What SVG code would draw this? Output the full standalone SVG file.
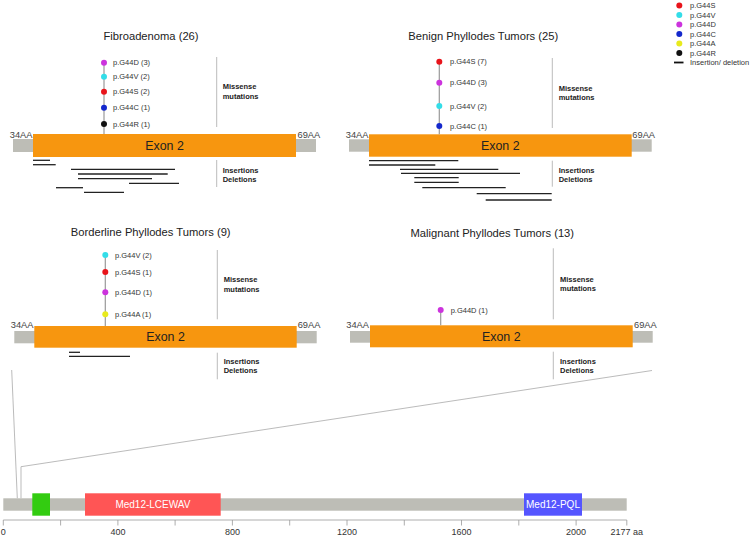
<svg xmlns="http://www.w3.org/2000/svg" width="750" height="537" viewBox="0 0 750 537">
<style>
text{font-family:"Liberation Sans",Arial,sans-serif}
.title{font-size:11.2px;fill:#222;text-anchor:middle}
.exon{font-size:12.4px;fill:#222;text-anchor:middle}
.aa{font-size:9.3px;fill:#444}
.mut{font-size:7.5px;fill:#333}
.lbl{font-size:7.5px;font-weight:bold;fill:#222}
.grey{fill:#bdbdb6}
.orange{fill:#f7960f}
.stem{stroke:#999;stroke-width:1.2}
.sep{stroke:#aaa;stroke-width:0.8}
.ins{stroke:#222;stroke-width:1.3}
.conn{stroke:#aaa;stroke-width:0.8;fill:none}
.axis{stroke:#999;stroke-width:0.8}
.tick{font-size:9px;fill:#333;text-anchor:middle}
.dom{font-size:10px;fill:#fff;text-anchor:middle}
.S{fill:#e8141b}.V{fill:#33dde8}.D{fill:#cc33dd}.C{fill:#1428cc}.A{fill:#e8ea1c}.R{fill:#111}
</style>

<g id="legend">
<circle class="S" cx="679.3" cy="5.5" r="3"/><text class="mut" x="690" y="8.2">p.G44S</text>
<circle class="V" cx="679.3" cy="15" r="3"/><text class="mut" x="690" y="17.7">p.G44V</text>
<circle class="D" cx="679.3" cy="24.5" r="3"/><text class="mut" x="690" y="27.2">p.G44D</text>
<circle class="C" cx="679.3" cy="34" r="3"/><text class="mut" x="690" y="36.7">p.G44C</text>
<circle class="A" cx="679.3" cy="43.5" r="3"/><text class="mut" x="690" y="46.2">p.G44A</text>
<circle class="R" cx="679.3" cy="53" r="3"/><text class="mut" x="690" y="55.7">p.G44R</text>
<line x1="674" y1="62.5" x2="683.5" y2="62.5" stroke="#111" stroke-width="1.8"/><text class="mut" x="690" y="65.2">Insertion/ deletion</text>
</g>

<g id="panel-fibroadenoma">
<text class="title" x="151" y="40">Fibroadenoma (26)</text>
<rect class="grey" x="13" y="139" width="303" height="13"/>
<rect class="orange" x="33" y="134" width="263" height="23"/>
<text class="exon" x="164.5" y="149.5">Exon 2</text>
<text class="aa" x="32.5" y="138" text-anchor="end">34AA</text>
<text class="aa" x="297.5" y="138">69AA</text>
<line class="stem" x1="104" y1="62.7" x2="104" y2="134"/>
<circle class="D" cx="104" cy="62.7" r="3"/><text class="mut" x="113" y="65.4">p.G44D (3)</text>
<circle class="V" cx="104" cy="76.7" r="3"/><text class="mut" x="113" y="79.4">p.G44V (2)</text>
<circle class="S" cx="104" cy="91.7" r="3"/><text class="mut" x="113" y="94.4">p.G44S (2)</text>
<circle class="C" cx="104" cy="107.7" r="3"/><text class="mut" x="113" y="110.4">p.G44C (1)</text>
<circle class="R" cx="104" cy="124" r="3"/><text class="mut" x="113" y="126.7">p.G44R (1)</text>
<line class="sep" x1="216.7" y1="57" x2="216.7" y2="127"/>
<text class="lbl" x="222.7" y="89.4">Missense</text>
<text class="lbl" x="222.7" y="98.7">mutations</text>
<line class="sep" x1="216.7" y1="160" x2="216.7" y2="187"/>
<text class="lbl" x="222.7" y="173.4">Insertions</text>
<text class="lbl" x="222.7" y="182">Deletions</text>
<line class="ins" x1="33" y1="160.3" x2="50" y2="160.3"/>
<line class="ins" x1="33" y1="164.7" x2="55.7" y2="164.7"/>
<line class="ins" x1="71" y1="169.3" x2="175" y2="169.3"/>
<line class="ins" x1="78" y1="174" x2="167.7" y2="174"/>
<line class="ins" x1="78" y1="178.7" x2="152" y2="178.7"/>
<line class="ins" x1="129" y1="183.3" x2="179" y2="183.3"/>
<line class="ins" x1="56" y1="187.7" x2="83" y2="187.7"/>
<line class="ins" x1="84" y1="192.3" x2="124" y2="192.3"/>
</g>

<g id="panel-benign">
<text class="title" x="483.3" y="40">Benign Phyllodes Tumors (25)</text>
<rect class="grey" x="349" y="139.3" width="302.7" height="12.4"/>
<rect class="orange" x="369" y="134.3" width="262.7" height="22.4"/>
<text class="exon" x="500.3" y="149.7">Exon 2</text>
<text class="aa" x="368.5" y="138.3" text-anchor="end">34AA</text>
<text class="aa" x="632.3" y="138.3">69AA</text>
<line class="stem" x1="439.3" y1="61.7" x2="439.3" y2="134.3"/>
<circle class="S" cx="439.3" cy="61.7" r="3"/><text class="mut" x="450" y="64.4">p.G44S (7)</text>
<circle class="D" cx="439.3" cy="82.7" r="3"/><text class="mut" x="450" y="85.4">p.G44D (3)</text>
<circle class="V" cx="439.3" cy="106" r="3"/><text class="mut" x="450" y="108.7">p.G44V (2)</text>
<circle class="C" cx="439.3" cy="126" r="3"/><text class="mut" x="450" y="128.7">p.G44C (1)</text>
<line class="sep" x1="552.3" y1="58" x2="552.3" y2="128"/>
<text class="lbl" x="558.7" y="90.7">Missense</text>
<text class="lbl" x="558.7" y="100.4">mutations</text>
<line class="sep" x1="552.3" y1="160.7" x2="552.3" y2="186.7"/>
<text class="lbl" x="558.7" y="173.4">Insertions</text>
<text class="lbl" x="558.7" y="182">Deletions</text>
<line class="ins" x1="369" y1="160.7" x2="458.3" y2="160.7"/>
<line class="ins" x1="369" y1="165" x2="435.3" y2="165"/>
<line class="ins" x1="400" y1="169.3" x2="498.3" y2="169.3"/>
<line class="ins" x1="401" y1="173.3" x2="520" y2="173.3"/>
<line class="ins" x1="414.3" y1="177.7" x2="458.7" y2="177.7"/>
<line class="ins" x1="414.3" y1="182.3" x2="458.7" y2="182.3"/>
<line class="ins" x1="422.3" y1="187.7" x2="505.7" y2="187.7"/>
<line class="ins" x1="476.7" y1="193.7" x2="551.7" y2="193.7"/>
<line class="ins" x1="485.7" y1="200" x2="551.7" y2="200"/>
</g>

<g id="panel-borderline">
<text class="title" x="150.7" y="235.8">Borderline Phyllodes Tumors (9)</text>
<rect class="grey" x="14.3" y="331" width="302.4" height="12.3"/>
<rect class="orange" x="34.3" y="326" width="262.4" height="21.7"/>
<text class="exon" x="165.5" y="341.3">Exon 2</text>
<text class="aa" x="33.5" y="328.3" text-anchor="end">34AA</text>
<text class="aa" x="297.7" y="328.3">69AA</text>
<line class="stem" x1="105.3" y1="255" x2="105.3" y2="326"/>
<circle class="V" cx="105.3" cy="255" r="3"/><text class="mut" x="115" y="257.7">p.G44V (2)</text>
<circle class="S" cx="105.3" cy="272" r="3"/><text class="mut" x="115" y="274.7">p.G44S (1)</text>
<circle class="D" cx="105.3" cy="292.3" r="3"/><text class="mut" x="115" y="295">p.G44D (1)</text>
<circle class="A" cx="105.3" cy="314.3" r="3"/><text class="mut" x="115" y="317">p.G44A (1)</text>
<line class="sep" x1="217.3" y1="250" x2="217.3" y2="319.3"/>
<text class="lbl" x="223.7" y="282">Missense</text>
<text class="lbl" x="223.7" y="291.7">mutations</text>
<line class="sep" x1="217.3" y1="352.7" x2="217.3" y2="379.3"/>
<text class="lbl" x="223.7" y="364.4">Insertions</text>
<text class="lbl" x="223.7" y="373.4">Deletions</text>
<line class="ins" x1="69" y1="352.3" x2="80" y2="352.3"/>
<line class="ins" x1="69" y1="356.3" x2="130" y2="356.3"/>
</g>

<g id="panel-malignant">
<text class="title" x="492.3" y="236.8">Malignant Phyllodes Tumors (13)</text>
<rect class="grey" x="350" y="331" width="302.7" height="11.7"/>
<rect class="orange" x="370" y="325.3" width="262.7" height="22"/>
<text class="exon" x="501.3" y="340.8">Exon 2</text>
<text class="aa" x="369" y="328.3" text-anchor="end">34AA</text>
<text class="aa" x="634" y="328.3">69AA</text>
<line class="stem" x1="440.7" y1="310" x2="440.7" y2="325.3"/>
<circle class="D" cx="440.7" cy="310" r="3"/><text class="mut" x="450.7" y="312.7">p.G44D (1)</text>
<line class="sep" x1="553.3" y1="248.3" x2="553.3" y2="319.3"/>
<text class="lbl" x="560" y="281.7">Missense</text>
<text class="lbl" x="560" y="291">mutations</text>
<line class="sep" x1="553.3" y1="351.7" x2="553.3" y2="379.3"/>
<text class="lbl" x="560" y="364.4">Insertions</text>
<text class="lbl" x="560" y="373.4">Deletions</text>
</g>

<g id="connectors">
<polyline class="conn" points="11.7,370 17.3,498.3"/>
<polyline class="conn" points="21,498.3 21,466.7 652,370.5"/>
</g>

<g id="protein">
<rect class="grey" x="3.3" y="498.3" width="623.4" height="12.4"/>
<rect x="32.3" y="493.3" width="17.7" height="22.4" fill="#33cc11"/>
<rect x="85" y="493.3" width="135.7" height="22.4" fill="#ff5555"/>
<text class="dom" x="152.9" y="508.3">Med12-LCEWAV</text>
<rect x="524" y="493.3" width="58" height="22.4" fill="#5555ff"/>
<text class="dom" x="553" y="508.3">Med12-PQL</text>
</g>

<g id="axis">
<line class="axis" x1="3.3" y1="520" x2="626.8" y2="520"/>
<line class="axis" x1="3.3" y1="520" x2="3.3" y2="525.5"/>
<line class="axis" x1="60.6" y1="520" x2="60.6" y2="525.5"/>
<line class="axis" x1="117.9" y1="520" x2="117.9" y2="525.5"/>
<line class="axis" x1="175.1" y1="520" x2="175.1" y2="525.5"/>
<line class="axis" x1="232.4" y1="520" x2="232.4" y2="525.5"/>
<line class="axis" x1="289.7" y1="520" x2="289.7" y2="525.5"/>
<line class="axis" x1="347" y1="520" x2="347" y2="525.5"/>
<line class="axis" x1="404.3" y1="520" x2="404.3" y2="525.5"/>
<line class="axis" x1="461.5" y1="520" x2="461.5" y2="525.5"/>
<line class="axis" x1="518.8" y1="520" x2="518.8" y2="525.5"/>
<line class="axis" x1="576.1" y1="520" x2="576.1" y2="525.5"/>
<line class="axis" x1="626.8" y1="520" x2="626.8" y2="525.5"/>
<text class="tick" x="3.3" y="535">0</text>
<text class="tick" x="117.9" y="535">400</text>
<text class="tick" x="232.4" y="535">800</text>
<text class="tick" x="347" y="535">1200</text>
<text class="tick" x="461.5" y="535">1600</text>
<text class="tick" x="576.1" y="535">2000</text>
<text class="tick" x="626.8" y="535">2177 aa</text>
</g>
</svg>
